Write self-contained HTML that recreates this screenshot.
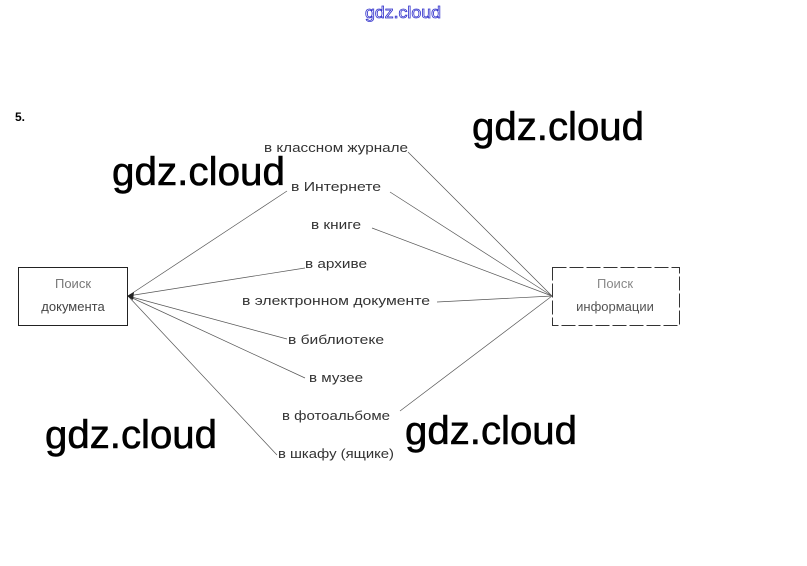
<!DOCTYPE html>
<html><head><meta charset="utf-8"><style>
html,body{margin:0;padding:0;background:#fff;}
svg{display:block;}
</style></head><body>
<svg width="807" height="566" viewBox="0 0 807 566" xmlns="http://www.w3.org/2000/svg" font-family="Liberation Sans, sans-serif">
<rect width="807" height="566" fill="#fff"/>
<text x="403" y="18" text-anchor="middle" font-size="17" fill="#fff" stroke="#3333cc" stroke-width="0.8" textLength="76" lengthAdjust="spacingAndGlyphs">gdz.cloud</text>
<text x="15" y="121" font-size="12" font-weight="bold" fill="#000">5.</text>
<rect x="18.5" y="267.5" width="109" height="58" fill="none" stroke="#222" stroke-width="1"/>
<text x="73" y="288" text-anchor="middle" font-size="13" fill="#777">Поиск</text>
<text x="73" y="311" text-anchor="middle" font-size="13" fill="#444">документа</text>
<rect x="552.5" y="267.5" width="127" height="58" fill="none" stroke="#333" stroke-width="1" stroke-dasharray="14,3"/>
<text x="615" y="288" text-anchor="middle" font-size="13" fill="#888">Поиск</text>
<text x="615" y="311" text-anchor="middle" font-size="13" fill="#555">информации</text>
<g stroke="#555" stroke-width="0.7" fill="none">
<line x1="408" y1="152" x2="552" y2="296"/>
<line x1="390" y1="192" x2="552" y2="296"/>
<line x1="372" y1="228" x2="552" y2="296"/>
<line x1="437" y1="302" x2="552" y2="296"/>
<line x1="400" y1="411" x2="552" y2="296"/>
<line x1="287" y1="191" x2="128" y2="296"/>
<line x1="305" y1="268" x2="128" y2="296"/>
<line x1="287" y1="339" x2="128" y2="296"/>
<line x1="305" y1="378" x2="128" y2="296"/>
<line x1="277" y1="455" x2="128" y2="296"/>
</g>
<path d="M127 296 L134 292 L133 300 Z" fill="#222"/>
<g font-size="13" fill="#333" text-anchor="middle">
<text x="336" y="152" textLength="144" lengthAdjust="spacingAndGlyphs">в классном журнале</text>
<text x="336" y="191" textLength="90" lengthAdjust="spacingAndGlyphs">в Интернете</text>
<text x="336" y="229" textLength="50" lengthAdjust="spacingAndGlyphs">в книге</text>
<text x="336" y="268" textLength="62" lengthAdjust="spacingAndGlyphs">в архиве</text>
<text x="336" y="305" textLength="188" lengthAdjust="spacingAndGlyphs">в электронном документе</text>
<text x="336" y="344" textLength="96" lengthAdjust="spacingAndGlyphs">в библиотеке</text>
<text x="336" y="382" textLength="54" lengthAdjust="spacingAndGlyphs">в музее</text>
<text x="336" y="420" textLength="108" lengthAdjust="spacingAndGlyphs">в фотоальбоме</text>
<text x="336" y="458" textLength="116" lengthAdjust="spacingAndGlyphs">в шкафу (ящике)</text>
</g>
<g font-size="40" fill="#000" stroke="#000" stroke-width="0.6">
<text x="472" y="140" textLength="172" lengthAdjust="spacingAndGlyphs">gdz.cloud</text>
<text x="112" y="185" textLength="173" lengthAdjust="spacingAndGlyphs">gdz.cloud</text>
<text x="45" y="448" textLength="172" lengthAdjust="spacingAndGlyphs">gdz.cloud</text>
<text x="405" y="444" textLength="172" lengthAdjust="spacingAndGlyphs">gdz.cloud</text>
</g>
</svg>
</body></html>
